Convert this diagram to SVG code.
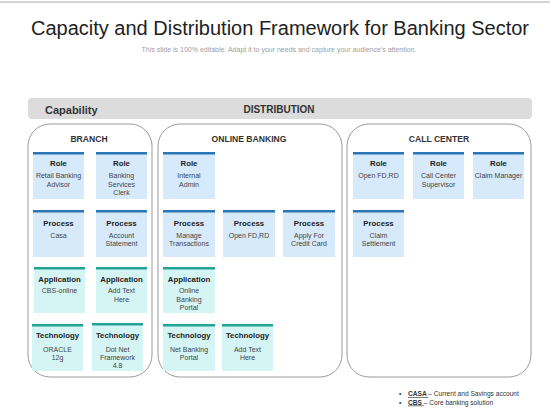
<svg xmlns="http://www.w3.org/2000/svg" width="560" height="420" viewBox="0 0 560 420">
<style>
.title{font-family:"Liberation Sans",Arial,sans-serif;font-size:20px;fill:#222;text-anchor:middle}
.sub{font-family:"Liberation Sans",Arial,sans-serif;font-size:7px;fill:#a0a0a0;text-anchor:middle}
.hdr{font-family:"Liberation Sans",Arial,sans-serif;font-weight:bold;fill:#333}
.panel{fill:#fff;stroke:#9a9a9a;stroke-width:1}
.ptitle{font-family:"Liberation Sans",Arial,sans-serif;font-weight:bold;font-size:8.6px;fill:#333;text-anchor:middle}
.cb{fill:#d6eafb}
.ct{fill:#d5f5f4}
.lb{fill:#2b76b6}
.lt{fill:#23a394}
.ch{font-family:"Liberation Sans",Arial,sans-serif;font-weight:bold;font-size:7.8px;fill:#222;text-anchor:middle}
.cx{font-family:"Liberation Sans",Arial,sans-serif;font-size:7px;fill:#444;text-anchor:middle}
.fn{font-family:"Liberation Sans",Arial,sans-serif;font-size:6.6px;fill:#333}
</style>
<defs>
<linearGradient id="curlB" x1="0" y1="0" x2="1" y2="1">
<stop offset="0" stop-color="#d6eafb"/><stop offset="1" stop-color="#cfe4f7"/>
</linearGradient>
</defs>
<line x1="0" y1="2" x2="550" y2="2" stroke="#d4d4d4" stroke-width="2"/>
<text class="title" x="280" y="35">Capacity and Distribution Framework for Banking Sector</text>
<text class="sub" x="279" y="52">This slide is 100% editable. Adapt it to your needs and capture your audience's attention.</text>

<g id="header">
<rect x="28" y="98" width="504" height="21" rx="4" fill="#dcdcdc"/>
<text class="hdr" x="45" y="114" font-size="11">Capability</text>
<text class="hdr" x="279" y="113" font-size="10" text-anchor="middle">DISTRIBUTION</text>
</g>

<g id="panel-branch">
<rect class="panel" x="28" y="124" width="124" height="253" rx="22"/>
<text class="ptitle" x="89" y="142">BRANCH</text>
</g>
<g id="panel-online">
<rect class="panel" x="158" y="124" width="184" height="253" rx="22"/>
<text class="ptitle" x="249" y="142">ONLINE BANKING</text>
</g>
<g id="panel-call">
<rect class="panel" x="347" y="124" width="184" height="253" rx="22"/>
<text class="ptitle" x="439" y="142">CALL CENTER</text>
</g>

<!-- Branch cards -->
<g id="b-role1" transform="translate(33,152)">
<rect class="cb" width="51" height="47"/><rect class="lb" width="51" height="2.5"/>
<text class="ch" x="25.5" y="14">Role</text>
<text class="cx" x="25.5" y="26">Retail Banking</text><text class="cx" x="25.5" y="34.5">Advisor</text>
</g>
<g id="b-role2" transform="translate(96,152)">
<rect class="cb" width="51" height="47"/><rect class="lb" width="51" height="2.5"/>
<text class="ch" x="25.5" y="14">Role</text>
<text class="cx" x="25.5" y="26">Banking</text><text class="cx" x="25.5" y="34.5">Services</text><text class="cx" x="25.5" y="43">Clerk</text>
</g>
<g id="b-proc1" transform="translate(33,210)">
<rect class="cb" width="51" height="47"/><rect class="lb" width="51" height="2.5"/>
<text class="ch" x="25.5" y="16">Process</text>
<text class="cx" x="25.5" y="27.5">Casa</text>
</g>
<g id="b-proc2" transform="translate(96,210)">
<rect class="cb" width="51" height="47"/><rect class="lb" width="51" height="2.5"/>
<text class="ch" x="25.5" y="16">Process</text>
<text class="cx" x="25.5" y="27.5">Account</text><text class="cx" x="25.5" y="36">Statement</text>
</g>
<g id="b-app1" transform="translate(34,267)">
<rect class="ct" width="51" height="46"/><rect class="lt" width="51" height="2.5"/>
<text class="ch" x="25.5" y="15">Application</text>
<text class="cx" x="25.5" y="26">CBS-online</text>
</g>
<g id="b-app2" transform="translate(96,267)">
<rect class="ct" width="51" height="46"/><rect class="lt" width="51" height="2.5"/>
<text class="ch" x="25.5" y="15">Application</text>
<text class="cx" x="25.5" y="26">Add Text</text><text class="cx" x="25.5" y="34.5">Here</text>
</g>
<g id="b-tech1" transform="translate(32,324)">
<rect class="ct" width="51" height="47"/><rect class="lt" width="51" height="2.5"/>
<text class="ch" x="25.5" y="14">Technology</text>
<text class="cx" x="25.5" y="27.5">ORACLE</text><text class="cx" x="25.5" y="36">12g</text>
</g>
<g id="b-tech2" transform="translate(92,323)">
<rect class="ct" width="51" height="48"/><rect class="lt" width="51" height="2.5"/>
<text class="ch" x="25.5" y="15">Technology</text>
<text class="cx" x="25.5" y="28.5">Dot Net</text><text class="cx" x="25.5" y="37">Framework</text><text class="cx" x="25.5" y="45">4.8</text>
</g>

<!-- Online banking cards -->
<g id="o-role1" transform="translate(163,152)">
<rect class="cb" width="52" height="47"/><rect class="lb" width="52" height="2.5"/>
<text class="ch" x="26" y="14">Role</text>
<text class="cx" x="26" y="26">Internal</text><text class="cx" x="26" y="34.5">Admin</text>
</g>
<g id="o-proc1" transform="translate(163,210)">
<rect class="cb" width="52" height="47"/><rect class="lb" width="52" height="2.5"/>
<text class="ch" x="26" y="16">Process</text>
<text class="cx" x="26" y="27.5">Manage</text><text class="cx" x="26" y="36">Transactions</text>
</g>
<g id="o-proc2" transform="translate(223,210)">
<rect class="cb" width="52" height="47"/><rect class="lb" width="52" height="2.5"/>
<text class="ch" x="26" y="16">Process</text>
<text class="cx" x="26" y="27.5">Open FD,RD</text>
</g>
<g id="o-proc3" transform="translate(283,210)">
<rect class="cb" width="52" height="47"/><rect class="lb" width="52" height="2.5"/>
<text class="ch" x="26" y="16">Process</text>
<text class="cx" x="26" y="27.5">Apply For</text><text class="cx" x="26" y="36">Credit Card</text>
</g>
<g id="o-app1" transform="translate(163,267)">
<rect class="ct" width="52" height="46"/><rect class="lt" width="52" height="2.5"/>
<text class="ch" x="26" y="15">Application</text>
<text class="cx" x="26" y="26">Online</text><text class="cx" x="26" y="34.5">Banking</text><text class="cx" x="26" y="43">Portal</text>
</g>
<g id="o-tech1" transform="translate(163,324)">
<rect class="ct" width="52" height="47"/><rect class="lt" width="52" height="2.5"/>
<text class="ch" x="26" y="14">Technology</text>
<text class="cx" x="26" y="27.5">Net Banking</text><text class="cx" x="26" y="36">Portal</text>
</g>
<g id="o-tech2" transform="translate(222,324)">
<rect class="ct" width="51" height="47"/><rect class="lt" width="51" height="2.5"/>
<text class="ch" x="25.5" y="14">Technology</text>
<text class="cx" x="25.5" y="27.5">Add Text</text><text class="cx" x="25.5" y="36">Here</text>
</g>

<!-- Call center cards -->
<g id="c-role1" transform="translate(353,152)">
<rect class="cb" width="51" height="47"/><rect class="lb" width="51" height="2.5"/>
<text class="ch" x="25.5" y="14">Role</text>
<text class="cx" x="25.5" y="26">Open FD,RD</text>
</g>
<g id="c-role2" transform="translate(413,152)">
<rect class="cb" width="51" height="47"/><rect class="lb" width="51" height="2.5"/>
<text class="ch" x="25.5" y="14">Role</text>
<text class="cx" x="25.5" y="26">Call Center</text><text class="cx" x="25.5" y="34.5">Supervisor</text>
</g>
<g id="c-role3" transform="translate(473,152)">
<rect class="cb" width="51" height="47"/><rect class="lb" width="51" height="2.5"/>
<text class="ch" x="25.5" y="14">Role</text>
<text class="cx" x="25.5" y="26">Claim Manager</text>
</g>
<g id="c-proc1" transform="translate(353,210)">
<rect class="cb" width="51" height="47"/><rect class="lb" width="51" height="2.5"/>
<text class="ch" x="25.5" y="16">Process</text>
<text class="cx" x="25.5" y="27.5">Claim</text><text class="cx" x="25.5" y="36">Settlement</text>
</g>

<g id="footnotes">
<text class="fn" x="399" y="396">•</text>
<text class="fn" x="408" y="396"><tspan font-weight="bold" text-decoration="underline">CASA </tspan> – Current and Savings account</text>
<text class="fn" x="399" y="404.5">•</text>
<text class="fn" x="408" y="404.5"><tspan font-weight="bold" text-decoration="underline">CBS </tspan> – Core banking solution</text>
</g>
</svg>
